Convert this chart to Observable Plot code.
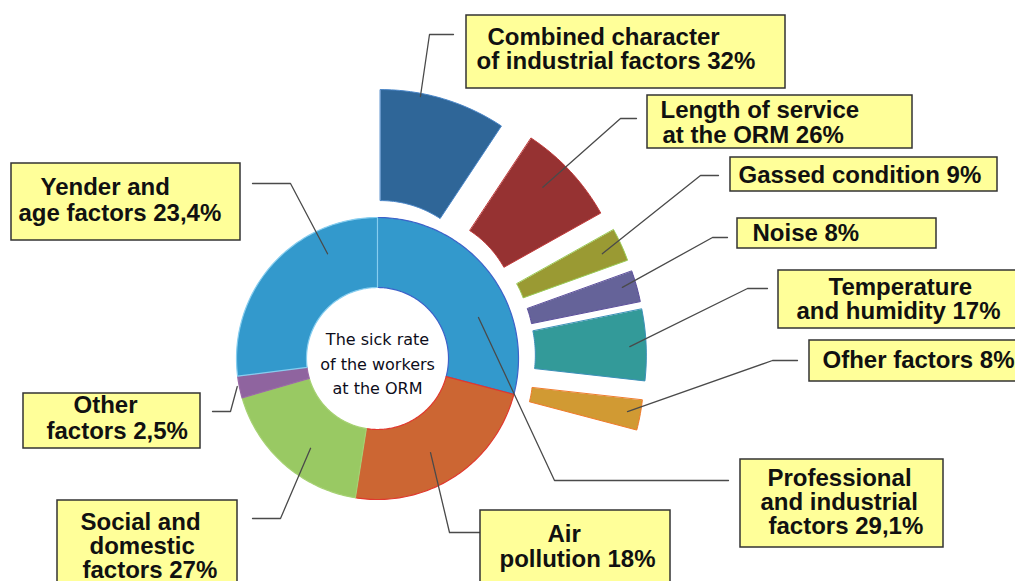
<!DOCTYPE html>
<html><head><meta charset="utf-8">
<script src="https://cdn.jsdelivr.net/npm/d3@7"></script>
<script src="https://cdn.jsdelivr.net/npm/@observablehq/plot@0.6"></script>
<style>html,body{margin:0;padding:0;background:#fff}#chart svg{display:block}</style>
</head><body><div id="chart"></div>
<script>
// ---------- data ----------
const donutCategories = ["Professional and industrial factors", "Air pollution", "Social and domestic factors", "Other factors", "Yender and age factors"];
const donutValues = [29.1, 23.4, 18, 2.5, 27]; // ring shares as drawn
const donutLabelLines = [
  ["Professional", "and industrial", "factors 29,1%"],
  ["Air", "pollution 18%"],
  ["Social and", "domestic", "factors 27%"],
  ["Other", "factors 2,5%"],
  ["Yender and", "age factors 23,4%"]
];
const outerCategories = ["Combined character of industrial factors", "Length of service at the ORM", "Gassed condition", "Noise", "Temperature and humidity", "Ofher factors"];
const outerValues = [32, 26, 9, 8, 17, 8];
const outerLabelLines = [
  ["Combined character", "of industrial factors 32%"],
  ["Length of service", "at the ORM 26%"],
  ["Gassed condition 9%"],
  ["Noise 8%"],
  ["Temperature", "and humidity 17%"],
  ["Ofher factors 8%"]
];
const centerTitle = "The sick rate\nof the workers\nat the ORM";

// ---------- layout & style ----------
const W = 1015, H = 581;
const C = {x: 377, y: 358};
const donutR = [71, 141];
const outerR = [158, 269];
const outerExplode = [[50, 3.4], [52, 40.7], [65, 63.4], [53, 74.6], [37, 84.8], [61, 107.7]]; // [distance, direction deg]
const donutFill = ["#3399cc", "#cc6633", "#99c963", "#8f649f", "#3399cc"];
const donutStroke = ["#3d62c9", "#e0392e", "#a6d173", "#9a6aa6", "#86cdef"];
const outerFill = ["#2f6698", "#963232", "#9a9a33", "#656399", "#339a99", "#d19a33"];
const outerStroke = ["#4a86c8", "#c03a3a", "#9acb55", "#5c4f9c", "#3a90b8", "#f07a2a"];
// label boxes [x1,y1,x2,y2], line starts, first line middle y, line step
const donutBoxes = [
  {box: [740, 459, 943, 547], xs: [767, 760, 768], y0: 478, step: 24},
  {box: [480, 510, 670, 595], xs: [547, 499], y0: 534, step: 25},
  {box: [57, 500, 237, 595], xs: [80, 89, 82], y0: 521.5, step: 24},
  {box: [23, 393, 200, 448], xs: [73, 46], y0: 405, step: 25.5},
  {box: [11, 163, 240, 240], xs: [40, 18], y0: 187, step: 26}
];
const outerBoxes = [
  {box: [466, 15, 785, 88], xs: [487, 476], y0: 36.5, step: 24.3},
  {box: [647, 95, 912, 148], xs: [660, 662], y0: 109.5, step: 25},
  {box: [730, 157, 997, 191], xs: [738], y0: 174.5, step: 0},
  {box: [737, 218, 936, 248], xs: [752], y0: 233, step: 0},
  {box: [778, 270, 1020, 328], xs: [828, 796], y0: 286.5, step: 24},
  {box: [809, 340, 1020, 381], xs: [822], y0: 359.5, step: 0}
];
// leader lines: anchor in polar [deg, radius] from ring centre, then elbow and end
const donutLeaders = [
  {a: [67.9, 109], pts: [[554, 480], [728, 480]]},
  {a: [150.6, 108], pts: [[449, 532], [480, 532]]},
  {a: [216.7, 112], pts: [[280, 518], [252, 518]]},
  {a: [258.7, 143], pts: [[230, 411], [212, 411]]},
  {a: [334.5, 116], pts: [[290, 183], [252, 183]]}
];
const outerLeaders = [
  {a: [9.3, 265.5], pts: [[429, 34], [453, 34]]},
  {a: [44, 238], pts: [[620, 118], [636, 118]]},
  {a: [65, 248], pts: [[700, 175], [718, 175]]},
  {a: [73.8, 255], pts: [[712, 237], [727, 237]]},
  {a: [87.3, 252.6], pts: [[747, 288], [767, 288]]},
  {a: [102, 255.6], pts: [[772, 360], [797, 360]]}
];

// ---------- geometry helpers ----------
const rad = d => d * Math.PI / 180;
function polar(cx, cy, r, deg) { return {x: cx + r * Math.sin(rad(deg)), y: cy - r * Math.cos(rad(deg))}; }
function sector(cx, cy, r0, r1, a0, a1) {
  const n = Math.max(6, Math.ceil(Math.abs(a1 - a0)));
  const pts = [];
  for (let i = 0; i <= n; i++) pts.push(polar(cx, cy, r1, a0 + (a1 - a0) * i / n));
  for (let i = n; i >= 0; i--) pts.push(polar(cx, cy, r0, a0 + (a1 - a0) * i / n));
  return pts;
}
function cumAngles(values, total) {
  const s = d3.sum(values); let acc = 0;
  return values.map(v => { const a0 = acc; acc += v / s * total; return [a0, acc]; });
}

const donutAngles = cumAngles(donutValues, 360);
const outerAngles = cumAngles(outerValues, donutAngles[0][1] - donutAngles[0][0]);

const marks = [];
donutAngles.forEach(([a0, a1], i) => {
  marks.push(Plot.line(sector(C.x, C.y, donutR[0], donutR[1], a0, a1),
    {x: "x", y: "y", fill: donutFill[i], stroke: donutStroke[i], strokeWidth: 1.2, curve: "linear-closed"}));
});
outerAngles.forEach(([a0, a1], i) => {
  const [d, dir] = outerExplode[i];
  const c = polar(C.x, C.y, d, dir);
  marks.push(Plot.line(sector(c.x, c.y, outerR[0] - d, outerR[1] - d, a0, a1),
    {x: "x", y: "y", fill: outerFill[i], stroke: outerStroke[i], strokeWidth: 1, curve: "linear-closed"}));
});
// leaders
const leaderPts = [];
[...donutLeaders, ...outerLeaders].forEach((L, k) => {
  const p = polar(C.x, C.y, L.a[1], L.a[0]);
  leaderPts.push({id: k, x: p.x, y: p.y});
  L.pts.forEach(([x, y]) => leaderPts.push({id: k, x, y}));
});
marks.push(Plot.line(leaderPts, {x: "x", y: "y", z: "id", stroke: "#4a4a4a", strokeWidth: 1.3}));
// boxes and label text
const allBoxes = [...donutBoxes, ...outerBoxes];
const allLines = [...donutLabelLines, ...outerLabelLines];
marks.push(Plot.rect(allBoxes, {x1: d => d.box[0], y1: d => d.box[1], x2: d => d.box[2], y2: d => d.box[3],
  fill: "#ffff99", stroke: "#333333", strokeWidth: 1.5}));
const textRows = [];
allBoxes.forEach((b, i) => allLines[i].forEach((t, j) => textRows.push({text: t, x: b.xs[j], y: b.y0 + j * b.step})));
marks.push(Plot.text(textRows, {x: "x", y: "y", text: "text", textAnchor: "start", lineAnchor: "middle",
  fontSize: 24, fontWeight: "bold", fontFamily: "'Liberation Sans', Arial, sans-serif", fill: "#111"}));
marks.push(Plot.text([centerTitle], {x: C.x, y: C.y + 3, text: d => d, textAnchor: "middle", lineAnchor: "middle",
  lineHeight: 1.56, fontSize: 16, fontWeight: 500, fontFamily: "'DejaVu Sans', sans-serif", fill: "#0d0d1a"}));

const chart = Plot.plot({
  width: W, height: H, margin: 0,
  x: {domain: [0, W], range: [0, W], axis: null},
  y: {domain: [0, H], range: [0, H], axis: null},
  style: {background: "#fff", overflow: "hidden"},
  marks
});
document.getElementById("chart").appendChild(chart);
</script>
</body></html>
